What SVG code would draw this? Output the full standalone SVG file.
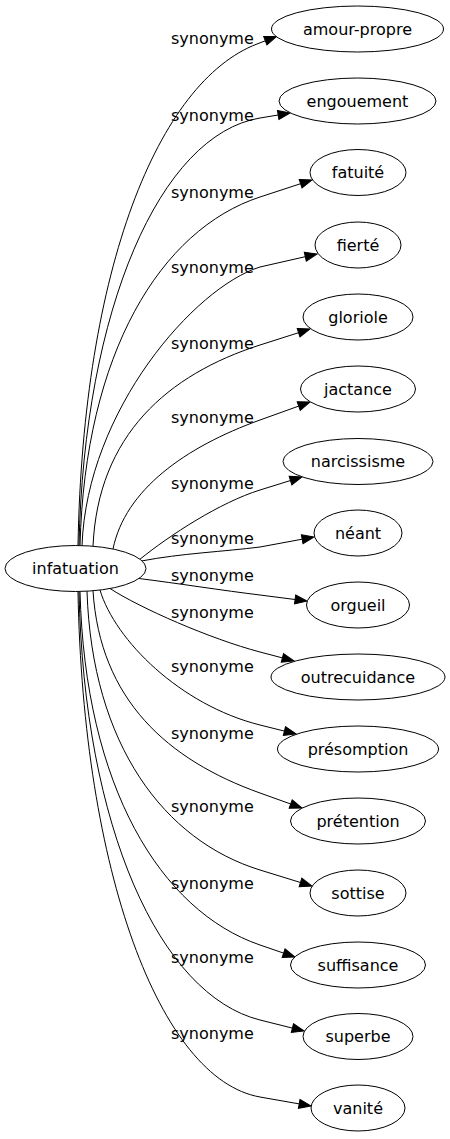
<svg xmlns="http://www.w3.org/2000/svg" width="450" height="1139" viewBox="0 0 450 1139">
<style>
text{font-family:"DejaVu Sans",Verdana,sans-serif;font-size:16px;fill:#000}
.lbl{text-anchor:start}
.nd text{text-anchor:middle}
.nd ellipse{fill:#fff;stroke:#000;stroke-width:1}
#edges path{fill:none;stroke:#000;stroke-width:1;marker-end:url(#arr)}
</style>
<defs>
<marker id="arr" markerUnits="userSpaceOnUse" markerWidth="12" markerHeight="9" viewBox="0 0 12 9" refX="0" refY="4.5" orient="auto" overflow="visible">
<path d="M0,0 L12,4.5 L0,9 z" fill="#000" stroke="#000" stroke-width="1"/>
</marker>
</defs>
<rect width="450" height="1139" fill="#fff"/>
<g id="edges">
<path d="M78,545.5 C83,268.7 158.2,82 257,44 L265.3,40.8"/>
<path d="M79,545.5 C84,309.5 160.1,134.6 260,118 L278.2,115"/>
<path d="M80,545.5 C85,353.1 160.6,229.5 260,197 L300.6,183.7"/>
<path d="M82,545.6 C87,410 195,287 260,267 L305.3,256.7"/>
<path d="M93,546.2 C98,435.2 167.8,374.5 260,345 L298.6,332.7"/>
<path d="M113,549 C125,490 185,447 260,420 L298.7,406.1"/>
<path d="M140,559.2 C170,535 220,502.4 260,490 L290.5,480.5"/>
<path d="M142,560.9 C180,553.5 225,551.5 260,547 L302.2,539.2"/>
<path d="M139,578.5 C175,583 225,590.8 260,595 L295.1,599.5"/>
<path d="M110,588.5 C140,608 210,638.8 260,652 L282.4,657.9"/>
<path d="M100,590.1 C115,640 180,705 260,725 L284.4,731.1"/>
<path d="M93,590.8 C100,700 168,760.1 260,793 L290.7,804"/>
<path d="M87,591.2 C92,745 164.5,840.6 260,870 L300.5,882.5"/>
<path d="M80,591.5 C85,786.6 160.6,910.9 260,945 L283.6,953.1"/>
<path d="M79,591.5 C84,828 160.1,995 260,1020 L292.4,1028.1"/>
<path d="M78,591.5 C83,870.5 159.5,1079.2 260,1097 L299.2,1103.9"/>
<text class="lbl" x="171" y="44">synonyme</text>
<text class="lbl" x="171" y="121">synonyme</text>
<text class="lbl" x="171" y="198">synonyme</text>
<text class="lbl" x="171" y="273">synonyme</text>
<text class="lbl" x="171" y="349">synonyme</text>
<text class="lbl" x="171" y="423">synonyme</text>
<text class="lbl" x="171" y="489">synonyme</text>
<text class="lbl" x="171" y="544">synonyme</text>
<text class="lbl" x="171" y="581">synonyme</text>
<text class="lbl" x="171" y="618">synonyme</text>
<text class="lbl" x="171" y="672">synonyme</text>
<text class="lbl" x="171" y="739">synonyme</text>
<text class="lbl" x="171" y="812">synonyme</text>
<text class="lbl" x="171" y="889">synonyme</text>
<text class="lbl" x="171" y="963">synonyme</text>
<text class="lbl" x="171" y="1039">synonyme</text>
</g>
<g id="n-infatuation" class="nd"><ellipse cx="75.5" cy="568.5" rx="70.5" ry="23"/><text x="75.5" y="574">infatuation</text></g>
<g id="n-amour-propre" class="nd"><ellipse cx="357.5" cy="29" rx="86" ry="23"/><text x="357.5" y="34.5">amour-propre</text></g>
<g id="n-engouement" class="nd"><ellipse cx="357.5" cy="101" rx="78.5" ry="23"/><text x="357.5" y="106.5">engouement</text></g>
<g id="n-fatuite" class="nd"><ellipse cx="358" cy="172.5" rx="48" ry="23"/><text x="358" y="178">fatuité</text></g>
<g id="n-fierte" class="nd"><ellipse cx="358" cy="245" rx="43" ry="23"/><text x="358" y="250.5">fierté</text></g>
<g id="n-gloriole" class="nd"><ellipse cx="358" cy="317" rx="55" ry="23"/><text x="358" y="322.5">gloriole</text></g>
<g id="n-jactance" class="nd"><ellipse cx="358" cy="389" rx="57.5" ry="23"/><text x="358" y="394.5">jactance</text></g>
<g id="n-narcissisme" class="nd"><ellipse cx="358" cy="461.5" rx="75" ry="23"/><text x="358" y="467">narcissisme</text></g>
<g id="n-neant" class="nd"><ellipse cx="358" cy="533" rx="44" ry="23"/><text x="358" y="538.5">néant</text></g>
<g id="n-orgueil" class="nd"><ellipse cx="358" cy="605" rx="51.5" ry="23"/><text x="358" y="610.5">orgueil</text></g>
<g id="n-outrecuidance" class="nd"><ellipse cx="358" cy="677" rx="87" ry="23"/><text x="358" y="682.5">outrecuidance</text></g>
<g id="n-presomption" class="nd"><ellipse cx="358" cy="749" rx="80.5" ry="23"/><text x="358" y="754.5">présomption</text></g>
<g id="n-pretention" class="nd"><ellipse cx="358" cy="821" rx="67.5" ry="23"/><text x="358" y="826.5">prétention</text></g>
<g id="n-sottise" class="nd"><ellipse cx="358" cy="893" rx="48" ry="23"/><text x="358" y="898.5">sottise</text></g>
<g id="n-suffisance" class="nd"><ellipse cx="358" cy="965" rx="67.5" ry="23"/><text x="358" y="970.5">suffisance</text></g>
<g id="n-superbe" class="nd"><ellipse cx="358" cy="1036.5" rx="55" ry="23"/><text x="358" y="1042">superbe</text></g>
<g id="n-vanite" class="nd"><ellipse cx="358" cy="1108" rx="47" ry="23"/><text x="358" y="1113.5">vanité</text></g>
</svg>
